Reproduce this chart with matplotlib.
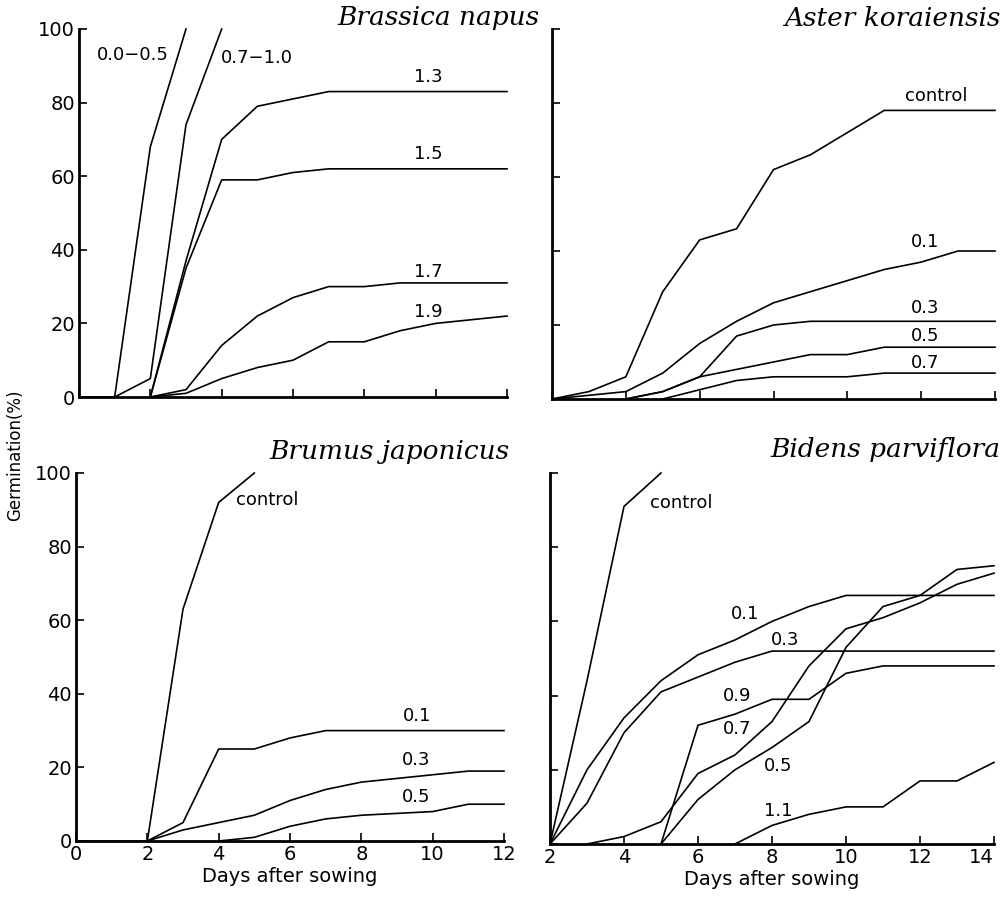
import matplotlib.pyplot as plt
import numpy as np

W, H = 1002, 902

# ---- Brassica napus (days 0-12)
bn_days = {
    '0.0-0.5': [0, 1, 2, 3],
    '0.7-1.0': [0, 1, 2, 3, 4],
    '1.3': [2, 3, 4, 5, 6, 7, 8, 9, 10, 11, 12],
    '1.5': [2, 3, 4, 5, 6, 7, 8, 9, 10, 11, 12],
    '1.7': [2, 3, 4, 5, 6, 7, 8, 9, 10, 11, 12],
    '1.9': [2, 3, 4, 5, 6, 7, 8, 9, 10, 11, 12],
}
bn_vals = {
    '0.0-0.5': [0, 0, 68, 100],
    '0.7-1.0': [0, 0, 5, 74, 100],
    '1.3': [0, 37, 70, 79, 81, 83, 83, 83, 83, 83, 83],
    '1.5': [0, 35, 59, 59, 61, 62, 62, 62, 62, 62, 62],
    '1.7': [0, 2, 14, 22, 27, 30, 30, 31, 31, 31, 31],
    '1.9': [0, 1, 5, 8, 10, 15, 15, 18, 20, 21, 22],
}
bn_labels = ['0.0\u22120.5', '0.7\u22121.0', '1.3', '1.5', '1.7', '1.9']
bn_lab_x = [1.5, 5.0, 9.8, 9.8, 9.8, 9.8]
bn_lab_y = [93, 92, 87, 66, 34, 23]

# ---- Aster koraiensis (days 2-14)
ak_days = {
    'control': [2, 3, 4, 5, 6, 7, 8, 9, 10, 11, 12, 13, 14],
    '0.1': [2, 3, 4, 5, 6, 7, 8, 9, 10, 11, 12, 13, 14],
    '0.3': [4, 5, 6, 7, 8, 9, 10, 11, 12, 13, 14],
    '0.5': [4, 5, 6, 7, 8, 9, 10, 11, 12, 13, 14],
    '0.7': [5, 6, 7, 8, 9, 10, 11, 12, 13, 14],
}
ak_vals = {
    'control': [0, 2, 6, 29, 43, 46, 62, 66, 72, 78, 78, 78, 78],
    '0.1': [0, 1, 2, 7, 15, 21, 26, 29, 32, 35, 37, 40, 40],
    '0.3': [0, 2, 6, 17, 20, 21, 21, 21, 21, 21, 21],
    '0.5': [0, 2, 6, 8, 10, 12, 12, 14, 14, 14, 14],
    '0.7': [0, 2.5, 5, 6, 6, 6, 7, 7, 7, 7],
}
ak_labels = ['control', '0.1', '0.3', '0.5', '0.7']
ak_lab_x = [12.4, 12.1, 12.1, 12.1, 12.1]
ak_lab_y = [82, 42.5, 24.5, 17, 9.7]

# ---- Brumus japonicus (days 0-12)
bj_days = {
    'control': [0, 2, 3, 4, 5],
    '0.1': [2, 3, 4, 5, 6, 7, 8, 9, 10, 11, 12],
    '0.3': [2, 3, 4, 5, 6, 7, 8, 9, 10, 11, 12],
    '0.5': [4, 5, 6, 7, 8, 9, 10, 11, 12],
}
bj_vals = {
    'control': [0, 0, 63, 92, 100],
    '0.1': [0, 5, 25, 25, 28, 30, 30, 30, 30, 30, 30],
    '0.3': [0, 3, 5, 7, 11, 14, 16, 17, 18, 19, 19],
    '0.5': [0, 1, 4, 6, 7, 7.5, 8, 10, 10],
}
bj_labels = ['control', '0.1', '0.3', '0.5']
bj_lab_x = [5.35, 9.55, 9.55, 9.55]
bj_lab_y = [92.7, 34, 22, 12]

# ---- Bidens parviflora (days 2-14)
bp_days = {
    'control': [2, 3, 4, 5],
    '0.1': [2, 3, 4, 5, 6, 7, 8, 9, 10, 11, 12, 13, 14],
    '0.3': [2, 3, 4, 5, 6, 7, 8, 9, 10, 11, 12, 13, 14],
    '0.9': [5, 6, 7, 8, 9, 10, 11, 12, 13, 14],
    '0.7': [3, 4, 5, 6, 7, 8, 9, 10, 11, 12, 13, 14],
    '0.5': [5, 6, 7, 8, 9, 10, 11, 12, 13, 14],
    '1.1': [7, 8, 9, 10, 11, 12, 13, 14],
}
bp_vals = {
    'control': [0, 44, 91, 100],
    '0.1': [0, 20, 34, 44, 51, 55, 60, 64, 67, 67, 67, 67, 67],
    '0.3': [0, 11, 30, 41, 45, 49, 52, 52, 52, 52, 52, 52, 52],
    '0.9': [0, 32, 35, 39, 39, 46, 48, 48, 48, 48],
    '0.7': [0, 2, 6, 19, 24, 33, 48, 58, 61, 65, 70, 73],
    '0.5': [0, 12, 20, 26, 33, 53, 64, 67, 74, 75],
    '1.1': [0, 5, 8, 10, 10, 17, 17, 22],
}
bp_labels = ['control', '0.1', '0.3', '0.9', '0.7', '0.5', '1.1']
bp_lab_x = [5.56, 7.27, 8.35, 7.05, 7.05, 8.17, 8.17]
bp_lab_y = [92, 62, 55, 40, 31, 21, 9]

fig = plt.figure(figsize=(W / 100, H / 100), dpi=100)


def make_ax(l, r, b, t):
    return fig.add_axes([l / W, 1 - b / H, (r - l) / W, (b - t) / H])


def style(ax, xlim, xticks, xlab, ylab):
    ax.set_xlim(*xlim)
    ax.set_ylim(0, 100)
    for s in ['top', 'right']:
        ax.spines[s].set_visible(False)
    for s in ['left', 'bottom']:
        ax.spines[s].set_linewidth(2)
    ax.set_xticks(xticks)
    ax.set_yticks([0, 20, 40, 60, 80, 100])
    ax.tick_params(direction='in', length=6, width=1.2, labelsize=14, pad=3)
    if not xlab:
        ax.set_xticklabels([])
    if not ylab:
        ax.set_yticklabels([])


def draw(ax, days, vals, labels, lx, ly):
    for k in days:
        ax.plot(days[k], vals[k], color='black', lw=1.2, clip_on=False)
    for t, x, y in zip(labels, lx, ly):
        ax.text(x, y, t, ha='center', va='center', fontsize=13)


title_kw = dict(fontsize=19, style='italic', family='DejaVu Serif', ha='right', va='center')

ax1 = make_ax(79, 507, 397, 29)
style(ax1, (0, 12), range(0, 13, 2), False, True)
draw(ax1, bn_days, bn_vals, bn_labels, bn_lab_x, bn_lab_y)
fig.text(540 / W, 1 - 18 / H, 'Brassica napus', **title_kw)

ax2 = make_ax(552, 995, 399, 29)
style(ax2, (2, 14), range(2, 15, 2), False, False)
draw(ax2, ak_days, ak_vals, ak_labels, ak_lab_x, ak_lab_y)
fig.text(1000 / W, 1 - 18 / H, 'Aster koraiensis', **title_kw)

ax3 = make_ax(76, 504, 841, 473)
style(ax3, (0, 12), range(0, 13, 2), True, True)
draw(ax3, bj_days, bj_vals, bj_labels, bj_lab_x, bj_lab_y)
ax3.set_xlabel('Days after sowing', fontsize=14, labelpad=2)
fig.text(510 / W, 1 - 452 / H, 'Brumus japonicus', **title_kw)

ax4 = make_ax(550, 994, 844, 473)
style(ax4, (2, 14), range(2, 15, 2), True, False)
draw(ax4, bp_days, bp_vals, bp_labels, bp_lab_x, bp_lab_y)
ax4.set_xlabel('Days after sowing', fontsize=14, labelpad=2)
ax4.get_xticklabels()[-1].set_horizontalalignment('right')
fig.text(1000 / W, 1 - 450 / H, 'Bidens parviflora', **title_kw)

fig.text(15 / W, 1 - 455 / H, 'Germination(%)', rotation=90, ha='center', va='center', fontsize=12)

fig.savefig('out.png', dpi=100)
